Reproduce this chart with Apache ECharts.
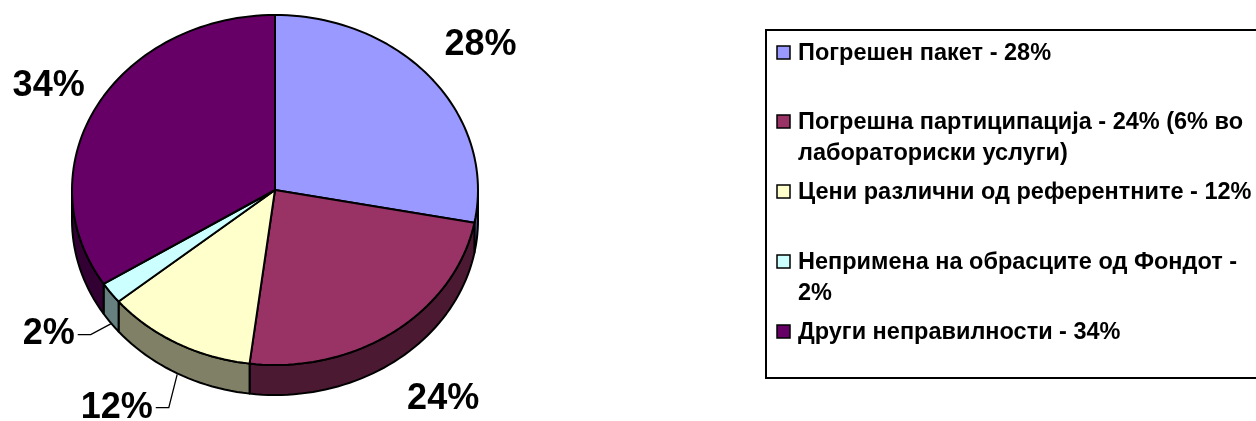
<!DOCTYPE html>
<html>
<head>
<meta charset="utf-8">
<style>
  html, body { margin: 0; padding: 0; background: #fff; }
  #main { width: 1256px; height: 421px; }
</style>
<script src="https://cdn.jsdelivr.net/npm/echarts@6/dist/echarts.min.js"></script>
</head>
<body>
<div id="main"></div>
<script>
'use strict';

// slice data
var categories = [
  'Погрешен пакет - 28%',
  'Погрешна партиципација - 24% (6% во\nлабораториски услуги)',
  'Цени различни од референтните - 12%',
  'Непримена на обрасците од Фондот -\n2%',
  'Други неправилности - 34%'
];
var values = [28, 24, 12, 2, 34];
var topColors = ['#9999FF', '#993366', '#FFFFCC', '#CCFFFF', '#660066'];
var sideColors = ['#4C4C80', '#4C1933', '#808066', '#668080', '#330033'];

// styling of the fake 3d pie
var DEPTH = 30;
var LABEL_FONT = 'bold 36px "Liberation Sans", Arial, sans-serif';
var LEGEND_FONT = 'bold 23.5px "Liberation Sans", Arial, sans-serif';
// per label nudge (px) and whether it gets a leader line
var labelNudge = [[10, -5], [19, 2], [-36, -4], [-21, -14], [-4, 1]];
var labelLeader = [false, false, true, true, false];

var total = values.reduce(function(a, b) { return a + b; }, 0);
var sliceData = [];
var acc = 0;
for (var i = 0; i < values.length; i++) {
  sliceData.push([acc / total, (acc + values[i]) / total, i]);
  acc += values[i];
}

var measureCtx = document.createElement('canvas').getContext('2d');
function textWidth(str, font) {
  measureCtx.font = font;
  return measureCtx.measureText(str).width;
}

function rimPoint(api, frac) {
  var t = frac * 2 * Math.PI;
  return api.coord([Math.sin(t), Math.cos(t)]);
}

function arc(api, a, b) {
  var pts = [];
  var n = Math.max(2, Math.ceil((b - a) * 200));
  for (var k = 0; k <= n; k++) {
    pts.push(rimPoint(api, a + (b - a) * k / n));
  }
  return pts;
}

function renderSide(params, api) {
  var a = Math.max(api.value(0), 0.25);
  var b = Math.min(api.value(1), 0.75);
  var idx = api.value(2);
  if (a >= b) return;
  var top = arc(api, a, b);
  var bottom = top.map(function(p) { return [p[0], p[1] + DEPTH]; }).reverse();
  return {
    type: 'polygon',
    shape: { points: top.concat(bottom) },
    style: { fill: sideColors[idx], stroke: '#000', lineWidth: 2, lineJoin: 'round' }
  };
}

function renderTop(params, api) {
  var idx = api.value(2);
  var pts = [api.coord([0, 0])].concat(arc(api, api.value(0), api.value(1)));
  return {
    type: 'polygon',
    shape: { points: pts },
    style: { fill: topColors[idx], stroke: '#000', lineWidth: 2, lineJoin: 'round' }
  };
}

function renderLabel(params, api) {
  var idx = api.value(2);
  var mid = (api.value(0) + api.value(1)) / 2;
  var t = mid * 2 * Math.PI;
  var down = Math.cos(t) < 0 ? DEPTH : 0;
  var p = api.coord([Math.sin(t) * 1.25, Math.cos(t) * 1.25]);
  var x = p[0] + labelNudge[idx][0];
  var y = p[1] + down + labelNudge[idx][1];
  var txt = values[idx] + '%';
  var children = [{
    type: 'text',
    x: x, y: y,
    style: {
      text: txt, font: LABEL_FONT, fill: '#000',
      align: 'center', verticalAlign: 'middle'
    }
  }];
  if (labelLeader[idx]) {
    var rim = rimPoint(api, mid);
    var sx = x + textWidth(txt, LABEL_FONT) / 2 + 3;
    children.push({
      type: 'polyline',
      shape: { points: [[sx, y], [sx + 13, y], [rim[0], rim[1] + DEPTH + 1]] },
      style: { stroke: '#000', lineWidth: 1.3, fill: null }
    });
  }
  return { type: 'group', children: children };
}

// legend built from the same arrays
var legendItems = [];
var legendY = [53, 122, 192, 262, 332];
legendItems.push({
  type: 'rect',
  shape: { x: 766, y: 30, width: 520, height: 348 },
  style: { fill: '#fff', stroke: '#000', lineWidth: 2 },
  z: 0
});
categories.forEach(function(name, i) {
  legendItems.push({
    type: 'rect',
    shape: { x: 777, y: legendY[i] - 7, width: 13, height: 13 },
    style: { fill: topColors[i], stroke: '#000', lineWidth: 1.5 },
    z: 1
  });
  legendItems.push({
    type: 'text',
    x: 798, y: legendY[i] - 15,
    style: {
      text: name, font: LEGEND_FONT, fill: '#000',
      lineHeight: 31, verticalAlign: 'top'
    },
    z: 1
  });
});

var chart = echarts.init(document.getElementById('main'));
chart.setOption({
  animation: false,
  grid: { left: 72, top: 15, width: 406, height: 350 },
  xAxis: { type: 'value', min: -1, max: 1, show: false },
  yAxis: { type: 'value', min: -1, max: 1, show: false },
  graphic: legendItems,
  series: [
    { type: 'custom', renderItem: renderSide, data: sliceData, z: 1, silent: true },
    { type: 'custom', renderItem: renderTop, data: sliceData, z: 2, silent: true },
    { type: 'custom', renderItem: renderLabel, data: sliceData, z: 3, silent: true, clip: false }
  ]
});
</script>
</body>
</html>
